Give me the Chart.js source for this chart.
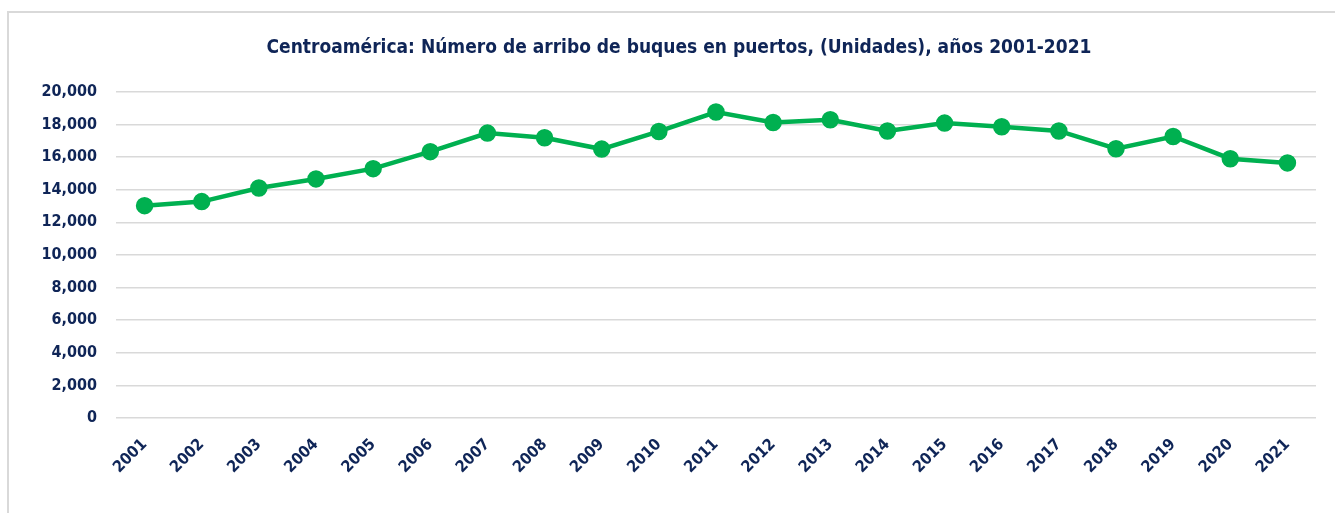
<!DOCTYPE html>
<html>
<head>
<meta charset="utf-8">
<script src="https://cdn.jsdelivr.net/npm/chart.js@4.4.0/dist/chart.umd.min.js"></script>
<style>
  html, body { margin: 0; padding: 0; background: #ffffff; }
  body { width: 1335px; height: 513px; overflow: hidden; position: relative; }
  #frame { position: absolute; left: 7px; top: 11px; width: 1340px; height: 520px;
           border-left: 2px solid #D9D9D9; border-top: 2px solid #D9D9D9; box-sizing: border-box; }
  #wrap { position: absolute; left: 9px; top: 13px; width: 1326px; height: 500px; }
</style>
</head>
<body>
<div id="frame"></div>
<div id="wrap"><canvas id="c"></canvas></div>
<script>
const years = ["2001","2002","2003","2004","2005","2006","2007","2008","2009","2010","2011",
               "2012","2013","2014","2015","2016","2017","2018","2019","2020","2021"];
const arribos = [13020, 13270, 14100, 14660, 15290, 16330, 17470, 17180, 16490, 17570, 18760,
                 18120, 18290, 17600, 18080, 17860, 17600, 16510, 17260, 15900, 15640];
const yTicks = [0, 2000, 4000, 6000, 8000, 10000, 12000, 14000, 16000, 18000, 20000];
const titleText = "Centroamérica: Número de arribo de buques en puertos, (Unidades), años 2001-2021";

const NAVY = "#0F2557";
const GREEN = "#00B050";
const FONT = "'Liberation Sans Narrow', 'DejaVu Sans Condensed', 'Roboto', sans-serif";

new Chart(document.getElementById("c"), {
  type: "line",
  data: {
    labels: years,
    datasets: [{
      label: "Arribos",
      data: arribos,
      borderColor: GREEN,
      backgroundColor: GREEN,
      borderWidth: 4.5,
      pointRadius: 6.5,
      pointHoverRadius: 6.5,
      pointBackgroundColor: GREEN,
      pointBorderColor: GREEN,
      tension: 0
    }]
  },
  options: {
    responsive: true,
    maintainAspectRatio: false,
    animation: false,
    layout: { padding: { left: 33, right: 19, top: 0, bottom: 27 } },
    plugins: {
      legend: { display: false },
      tooltip: { enabled: false },
      title: {
        display: true,
        text: titleText,
        color: NAVY,
        font: { family: FONT, size: 19, weight: "bold" },
        padding: { top: 24, bottom: 32 }
      }
    },
    scales: {
      x: {
        offset: true,
        grid: { display: false },
        border: { display: false },
        ticks: {
          color: NAVY,
          font: { family: FONT, size: 16, weight: "bold" },
          maxRotation: 45, minRotation: 45,
          autoSkip: false,
          padding: 9
        }
      },
      y: {
        min: 0, max: 20000,
        afterBuildTicks: (s) => { s.ticks = yTicks.map(v => ({ value: v })); },
        afterFit: (s) => { s.width = 74; },
        grid: { color: "#D9D9D9", lineWidth: 1.5, drawTicks: false },
        border: { display: false },
        ticks: {
          color: NAVY,
          font: { family: FONT, size: 16, weight: "bold" },
          padding: 19,
          callback: (v) => v.toLocaleString("en-US")
        }
      }
    }
  }
});
</script>
</body>
</html>
